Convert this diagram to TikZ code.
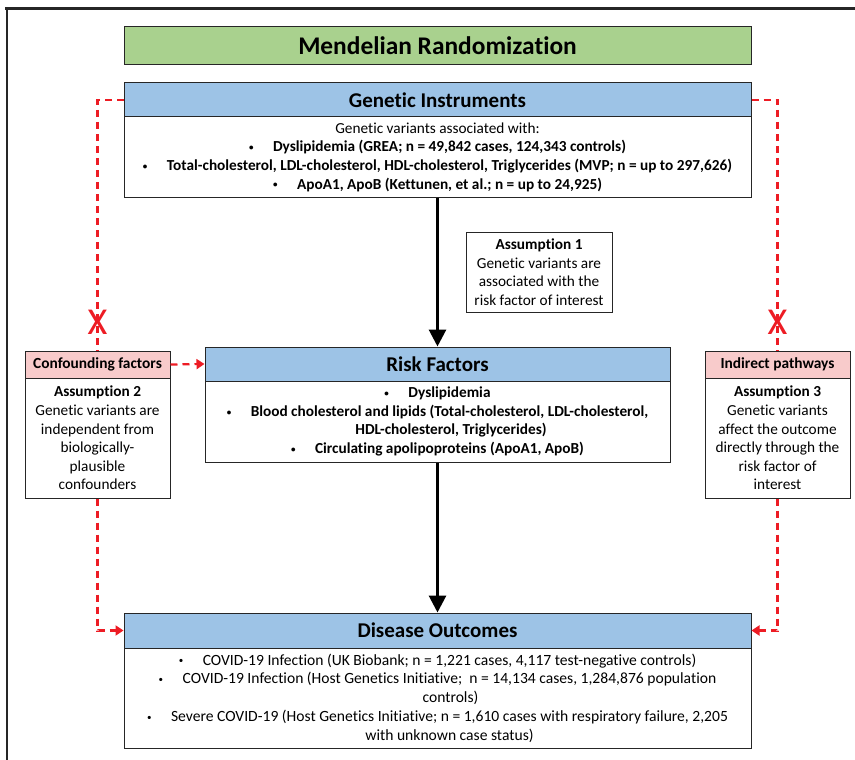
\documentclass[tikz,border=0pt]{standalone}
\usepackage{fontspec}
\setmainfont{Carlito}[Ligatures={NoCommon}]
\usetikzlibrary{arrows.meta}
\definecolor{mrgreen}{RGB}{169,209,142}
\definecolor{mrblue}{RGB}{157,195,230}
\definecolor{mrpink}{RGB}{248,203,203}
\definecolor{mrred}{RGB}{237,28,36}
\newcommand\mrbul[1]{\makebox[24pt][l]{\raisebox{1.2pt}{\fontsize{9}{9}\selectfont\textbullet}}#1}
\begin{document}
\begin{tikzpicture}[x=1pt,y=-1pt,
  boxbase/.style={draw=black!85, line width=1pt, inner sep=0pt, align=center},
  titlebox/.style={boxbase, fill=mrgreen, font=\fontsize{25.4}{28}\selectfont\bfseries},
  hdr/.style={boxbase, fill=mrblue, font=\fontsize{21}{24}\selectfont\bfseries},
  smallhdr/.style={boxbase, fill=mrpink, font=\fontsize{15.4}{18}\selectfont\bfseries},
  bodybox/.style={boxbase, fill=white, font=\fontsize{15.3}{18.6}\selectfont},
  reddash/.style={draw=mrred, line width=2.2pt, dash pattern=on 7pt off 5pt},
  redtip/.style={-{Triangle[width=10pt,length=8pt]}},
  blkarrow/.style={draw=black, line width=3pt, -{Triangle[width=17pt,length=17pt]}},
  xmark/.style={text=mrred, inner sep=0pt, font=\fontsize{38}{38}\selectfont}
]
\useasboundingbox (0,0) rectangle (855,760);
% frame
\draw[black!85, line width=3pt] (5,9) -- (855,9);
\draw[black!85, line width=2pt] (7,8) -- (7,760);

% title
\node[titlebox, minimum width=627pt, minimum height=38pt] (title) at (437.5,46) {Mendelian Randomization};

% genetic instruments
\node[hdr, minimum width=627pt, minimum height=34pt] (gih) at (437.5,100) {Genetic Instruments};
\node[bodybox, minimum width=627pt, minimum height=80pt] (gib) at (437.5,157) {Genetic variants associated with:\\
\textbf{\mrbul{Dyslipidemia (GREA; n = 49,842 cases, 124,343 controls)}}\\
\textbf{\mrbul{Total-cholesterol, LDL-cholesterol, HDL-cholesterol, Triglycerides (MVP; n = up to 297,626)}}\\
\textbf{\mrbul{ApoA1, ApoB (Kettunen, et al.; n = up to 24,925)}}};

% assumption 1
\node[bodybox, minimum width=146pt, minimum height=80pt] (a1) at (539,272) {\textbf{Assumption 1}\\Genetic variants are\\associated with the\\risk factor of interest};

% confounding factors
\node[smallhdr, minimum width=145pt, minimum height=27pt] (cfh) at (97.5,364.5) {Confounding factors};
\node[bodybox, minimum width=145pt, minimum height=120pt] (cfb) at (97.5,438) {\textbf{Assumption 2}\\Genetic variants are\\independent from\\biologically-\\plausible\\confounders};

% risk factors
\node[hdr, minimum width=465pt, minimum height=34pt] (rfh) at (437.5,364) {Risk Factors};
\node[bodybox, minimum width=465pt, minimum height=81pt] (rfb) at (437.5,421.5) {\textbf{\mrbul{Dyslipidemia}}\\
\textbf{\mrbul{Blood cholesterol and lipids (Total-cholesterol, LDL-cholesterol,}}\\
\hspace*{27pt}\textbf{HDL-cholesterol, Triglycerides)}\\
\textbf{\mrbul{Circulating apolipoproteins (ApoA1, ApoB)}}};

% indirect pathways
\node[smallhdr, minimum width=145pt, minimum height=27pt] (iph) at (777.5,364.5) {Indirect pathways};
\node[bodybox, minimum width=145pt, minimum height=120pt] (ipb) at (777.5,438) {\textbf{Assumption 3}\\Genetic variants\\affect the outcome\\directly through the\\risk factor of\\interest};

% disease outcomes
\node[hdr, minimum width=627pt, minimum height=35pt] (doh) at (437.5,630.5) {Disease Outcomes};
\node[bodybox, minimum width=627pt, minimum height=100pt, font=\fontsize{15.6}{18.8}\selectfont] (dob) at (437.5,698) {\mrbul{COVID-19 Infection (UK Biobank; n = 1,221 cases, 4,117 test-negative controls)}\\
\mrbul{COVID-19 Infection (Host Genetics Initiative;\ \ n = 14,134 cases, 1,284,876 population}\\
\hspace*{26pt}controls)\\
\mrbul{Severe COVID-19 (Host Genetics Initiative; n = 1,610 cases with respiratory failure, 2,205}\\
\hspace*{24pt}with unknown case status)};

% black arrows
\draw[blkarrow] (gib.south) -- (rfh.north);
\draw[blkarrow] (rfb.south) -- (doh.north);

% red dashed paths left
\draw[reddash] (gih.west) -- (cfh.north |- gih.west) -- (cfh.north);
\draw[reddash, redtip] (cfb.south) -- (cfb.south |- doh.west) -- (doh.west);
\draw[reddash, redtip] (cfh.east) -- (rfh.west);
% right
\draw[reddash] (gih.east) -- (iph.north |- gih.east) -- (iph.north);
\draw[reddash, redtip] (ipb.south) -- (ipb.south |- doh.east) -- (doh.east);

% X marks
\node[xmark] (x1) at (97.5,322) {X};
\node[xmark] (x2) at (777.5,322) {X};
\end{tikzpicture}
\end{document}
